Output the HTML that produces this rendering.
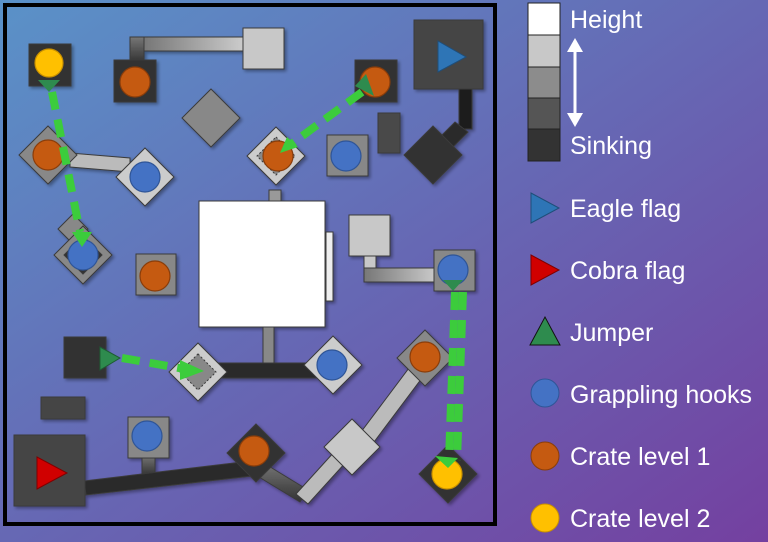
<!DOCTYPE html>
<html><head><meta charset="utf-8"><style>
html,body{margin:0;padding:0;width:768px;height:542px;overflow:hidden}
svg{display:block}
text{font-family:"Liberation Sans",sans-serif;fill:#fff;font-size:25px}
</style></head><body>
<svg width="768" height="542" viewBox="0 0 768 542" xmlns="http://www.w3.org/2000/svg">
<defs>
<linearGradient id="bg" x1="0" y1="0" x2="1" y2="1">
<stop offset="0" stop-color="#5a92c8"/><stop offset="0.5" stop-color="#6668b4"/><stop offset="1" stop-color="#7440a0"/>
</linearGradient>
<linearGradient id="hg" x1="0" y1="0" x2="1" y2="0"><stop offset="0" stop-color="#777"/><stop offset="1" stop-color="#ccc"/></linearGradient>
<linearGradient id="vg" x1="0" y1="0" x2="0" y2="1"><stop offset="0" stop-color="#777"/><stop offset="1" stop-color="#333"/></linearGradient>
<filter id="sh" x="-20%" y="-20%" width="150%" height="150%"><feDropShadow dx="2" dy="2" stdDeviation="1.5" flood-opacity="0.35"/></filter>
</defs>
<rect width="768" height="542" fill="url(#bg)"/>
<rect x="5" y="5" width="490" height="519" fill="none" stroke="#000" stroke-width="4"/>
<g filter="url(#sh)" stroke="#3a3a3a" stroke-width="1">
<rect x="130" y="37" width="14" height="25" fill="url(#vg)"/>
<rect x="144" y="37" width="100" height="14" fill="url(#hg)"/>
<rect x="243" y="28" width="41" height="41" fill="#c8c8c8"/>
<polygon points="70,153 70,167 130,172 130,158" fill="#bbb"/>
<rect x="459" y="89" width="13" height="40" fill="#1a1a1a"/>
<polygon points="455,122 468,132 448,152 435,142" fill="#2a2a2a"/>
<rect x="364" y="255" width="12" height="15" fill="#c8c8c8"/>
<rect x="364" y="268" width="74" height="14" fill="url(#hg)"/>
<rect x="263" y="320" width="11" height="48" fill="#888"/>
<rect x="198" y="363" width="130" height="15" fill="#2a2a2a"/>
<rect x="142" y="455" width="13" height="20" fill="url(#vg)"/>
<polygon points="84,481 250,461 252,476 86,495" fill="#2a2a2a"/>
<polygon points="262,462 308,490 300,502 254,474" fill="url(#vg)"/>
<polygon points="296,494 345,440 357,450 308,504" fill="#bbb"/>
<polygon points="355,440 415,360 428,370 368,450" fill="#bbb"/>
<rect x="29" y="44" width="42" height="42" fill="#333"/>
<rect x="114" y="60" width="42" height="42" fill="#333"/>
<rect x="355" y="60" width="42" height="42" fill="#333"/>
<rect x="414" y="20" width="69" height="69" fill="#444"/>
<rect x="378" y="113" width="22" height="40" fill="#484848"/>
<rect x="327" y="135" width="41" height="41" fill="#888"/>
<polygon points="211,89 240,118 211,147 182,118" fill="#888"/>
<polygon points="48,126 77,155 48,184 19,155" fill="#888"/>
<polygon points="145,148 174,177 145,206 116,177" fill="#ccc"/>
<polygon points="276,127 305,156 276,185 247,156" fill="#ccc"/>
<polygon points="276,137 295,156 276,175 257,156" fill="#888" stroke-dasharray="2,2"/>
<polygon points="433,126 462,155 433,184 404,155" fill="#333"/>
<rect x="269" y="190" width="12" height="12" fill="#999"/>
<rect x="326" y="232" width="7" height="69" fill="#eee"/>
<rect x="199" y="201" width="126" height="126" fill="#fff"/>
<rect x="349" y="215" width="41" height="41" fill="#c8c8c8"/>
<rect x="434" y="250" width="41" height="41" fill="#888"/>
<polygon points="73,214 88,229 73,244 58,229" fill="#888"/>
<polygon points="83,226 112,255 83,284 54,255" fill="#888"/>
<polygon points="83,236 102,255 83,274 64,255" fill="#333"/>
<rect x="136" y="254" width="40" height="41" fill="#888"/>
<rect x="64" y="337" width="42" height="41" fill="#333"/>
<polygon points="198,343 227,372 198,401 169,372" fill="#ccc"/>
<polygon points="198,354 216,372 198,390 180,372" fill="#888" stroke-dasharray="2,2"/>
<polygon points="333,336 362,365 333,394 304,365" fill="#ccc"/>
<rect x="41" y="397" width="44" height="22" fill="#444"/>
<rect x="14" y="435" width="71" height="71" fill="#444"/>
<rect x="128" y="417" width="41" height="41" fill="#888"/>
<polygon points="256,424 285,453 256,482 227,453" fill="#333"/>
<polygon points="352,419 380,447 352,475 324,447" fill="#c8c8c8"/>
<polygon points="425,330 453,358 425,386 397,358" fill="#888"/>
<polygon points="448,445 477,474 448,503 419,474" fill="#333"/>
</g>
<g stroke-width="1.2">
<circle cx="49" cy="63" r="14" fill="#ffc000" stroke="#c89000"/>
<circle cx="135" cy="82" r="15" fill="#c55a11" stroke="#8a3d0a"/>
<circle cx="375" cy="82" r="15" fill="#c55a11" stroke="#8a3d0a"/>
<circle cx="48" cy="155" r="15" fill="#c55a11" stroke="#8a3d0a"/>
<circle cx="145" cy="177" r="15" fill="#4472c4" stroke="#2f5597"/>
<circle cx="278" cy="156" r="15" fill="#c55a11" stroke="#8a3d0a"/>
<circle cx="346" cy="156" r="15" fill="#4472c4" stroke="#2f5597"/>
<circle cx="83" cy="255" r="15" fill="#4472c4" stroke="#2f5597"/>
<circle cx="155" cy="276" r="15" fill="#c55a11" stroke="#8a3d0a"/>
<circle cx="453" cy="270" r="15" fill="#4472c4" stroke="#2f5597"/>
<circle cx="332" cy="365" r="15" fill="#4472c4" stroke="#2f5597"/>
<circle cx="425" cy="357" r="15" fill="#c55a11" stroke="#8a3d0a"/>
<circle cx="147" cy="436" r="15" fill="#4472c4" stroke="#2f5597"/>
<circle cx="254" cy="451" r="15" fill="#c55a11" stroke="#8a3d0a"/>
<circle cx="447" cy="474" r="15" fill="#ffc000" stroke="#c89000"/>
</g>
<polygon points="438,41 438,72 466,57" fill="#2e75b6" stroke="#1f4e79"/>
<polygon points="37,457 37,489 67,473" fill="#d00000" stroke="#800000"/>
<polygon points="100,347 100,370 120,358" fill="#2e8b4e" stroke="#1e5c33"/>
<g stroke="#3ccc3c" stroke-width="8" stroke-dasharray="18,10" fill="none">
<line x1="52" y1="92" x2="80" y2="232"/>
<line x1="362" y1="92" x2="290" y2="145"/>
<line x1="122" y1="358" x2="185" y2="369"/>
<line x1="455" y1="292" x2="449" y2="460"/>
<line x1="463" y1="292" x2="457" y2="460"/>
</g>
<g fill="#3ccc3c">
<polygon points="72,232 92,232 82,247"/>
<polygon points="280,153 287,137 298,147"/>
<polygon points="180,360 204,371 180,380"/>
<polygon points="435,456 458,458 448,468"/>
</g>
<polygon points="38,80 60,80 49,92" fill="#2e8b4e"/>
<polygon points="355,86 366,74 374,96" fill="#2e8b4e"/>
<polygon points="443,280 463,280 453,291" fill="#2e8b4e"/>
<rect x="528" y="3" width="32" height="32" fill="#fff" stroke="#222"/>
<rect x="528" y="35" width="32" height="32" fill="#c8c8c8" stroke="#222"/>
<rect x="528" y="67" width="32" height="31" fill="#8c8c8c" stroke="#222"/>
<rect x="528" y="98" width="32" height="31" fill="#555" stroke="#222"/>
<rect x="528" y="129" width="32" height="32" fill="#333" stroke="#222"/>
<line x1="575" y1="48" x2="575" y2="118" stroke="#fff" stroke-width="3"/>
<polygon points="567,52 575,38 583,52" fill="#fff"/>
<polygon points="567,113 575,127 583,113" fill="#fff"/>
<text x="570" y="28">Height</text>
<text x="570" y="154">Sinking</text>
<polygon points="531,193 531,223 559,208" fill="#2e75b6" stroke="#1f4e79"/>
<text x="570" y="217">Eagle flag</text>
<polygon points="531,255 531,285 559,270" fill="#d00000" stroke="#800000"/>
<text x="570" y="279">Cobra flag</text>
<polygon points="530,345 560,345 545,317" fill="#2e8b4e" stroke="#111"/>
<text x="570" y="341">Jumper</text>
<circle cx="545" cy="393" r="14" fill="#4472c4" stroke="#2f5597"/>
<text x="570" y="403">Grappling hooks</text>
<circle cx="545" cy="456" r="14" fill="#c55a11" stroke="#8a3d0a"/>
<text x="570" y="465">Crate level 1</text>
<circle cx="545" cy="518" r="14" fill="#ffc000" stroke="#c89000"/>
<text x="570" y="527">Crate level 2</text>
</svg>
</body></html>
